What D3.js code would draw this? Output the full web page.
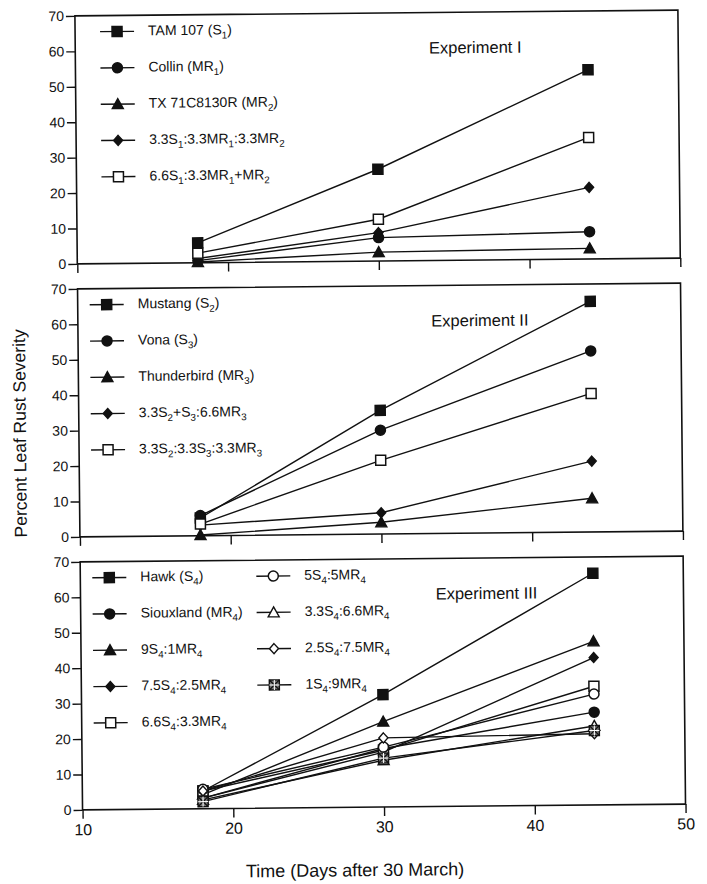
<!DOCTYPE html>
<html>
<head>
<meta charset="utf-8">
<script src="https://cdn.jsdelivr.net/npm/d3@7"></script>
<style>
  body { margin: 0; background: #fff; }
  svg { display: block; font-family: "Liberation Sans", Arial, sans-serif; }
</style>
</head>
<body>
<svg id="chart" width="707" height="884"></svg>
<script>
// sampling days (days after 30 March)
const days = [18, 30, 44];
const xTicks = [10, 20, 30, 40, 50];
const yTicks = [0, 10, 20, 30, 40, 50, 60, 70];

// Experiment I
const exp1Labels = ["TAM 107 (S_1)", "Collin (MR_1)", "TX 71C8130R (MR_2)", "3.3S_1:3.3MR_1:3.3MR_2", "6.6S_1:3.3MR_1+MR_2"];
const exp1Symbols = ["square", "circle", "triangle", "diamond", "openSquare"];
const exp1Values = [
  [5.6, 25.9, 53.4],
  [0.6, 6.6, 7.7],
  [0.2, 2.5, 3.0],
  [1.2, 8.0, 20.2],
  [2.7, 11.8, 34.3]
];

// Experiment II
const exp2Labels = ["Mustang (S_2)", "Vona (S_3)", "Thunderbird (MR_3)", "3.3S_2+S_3:6.6MR_3", "3.3S_2:3.3S_3:3.3MR_3"];
const exp2Symbols = ["square", "circle", "triangle", "diamond", "openSquare"];
const exp2Values = [
  [5.0, 34.9, 65.1],
  [5.7, 29.3, 51.1],
  [0.2, 3.3, 9.5],
  [3.0, 6.0, 20.0],
  [3.3, 20.8, 39.1]
];

// Experiment III
const exp3Labels = ["Hawk (S_4)", "Siouxland (MR_4)", "9S_4:1MR_4", "7.5S_4:2.5MR_4", "6.6S_4:3.3MR_4",
                    "5S_4:5MR_4", "3.3S_4:6.6MR_4", "2.5S_4:7.5MR_4", "1S_4:9MR_4"];
const exp3Symbols = ["square", "circle", "triangle", "diamond", "openSquare",
                     "openCircle", "openTriangle", "openDiamond", "boxStar"];
const exp3Values = [
  [5.0, 31.7, 65.4],
  [3.0, 16.5, 26.2],
  [4.0, 24.1, 46.2],
  [3.0, 15.5, 41.6],
  [5.0, 16.0, 33.5],
  [5.5, 16.9, 31.3],
  [2.5, 13.2, 22.3],
  [5.0, 19.5, 20.1],
  [2.0, 13.8, 21.0]
];

const panels = [
  { title: "Experiment I", labels: exp1Labels, symbols: exp1Symbols, values: exp1Values, legendX: [121], perCol: 5, titleX: 479 },
  { title: "Experiment II", labels: exp2Labels, symbols: exp2Symbols, values: exp2Values, legendX: [108], perCol: 5, titleX: 481 },
  { title: "Experiment III", labels: exp3Labels, symbols: exp3Symbols, values: exp3Values, legendX: [108, 272], perCol: 5, titleX: 485 }
];

const left = 79, right = 682;
const panelH = 248, panelGap = 273, firstTop = 13;

const svg = d3.select("#chart");
// the scanned figure is tilted a little, so rotate everything the same way
const root = svg.append("g").attr("transform", "rotate(-0.55, 380, 440)");

const x = d3.scaleLinear().domain([10, 50]).range([left, right]);

// draws one marker shape at 0,0
function drawMarker(g, type) {
  const s = 5;
  const black = "#111";
  if (type === "square" || type === "openSquare") {
    g.append("rect").attr("x", -s).attr("y", -s).attr("width", 2 * s).attr("height", 2 * s)
      .attr("fill", type === "square" ? black : "#fff").attr("stroke", black).attr("stroke-width", 1.5);
  } else if (type === "circle" || type === "openCircle") {
    g.append("circle").attr("r", s)
      .attr("fill", type === "circle" ? black : "#fff").attr("stroke", black).attr("stroke-width", 1.5);
  } else if (type === "triangle" || type === "openTriangle") {
    g.append("path").attr("d", `M0,${-s - 0.5}L${s + 0.5},${s - 0.5}L${-s - 0.5},${s - 0.5}Z`)
      .attr("fill", type === "triangle" ? black : "#fff").attr("stroke", black).attr("stroke-width", 1.4);
  } else if (type === "diamond" || type === "openDiamond") {
    g.append("path").attr("d", `M0,${-s}L${s - 0.5},0L0,${s}L${-s + 0.5},0Z`)
      .attr("fill", type === "diamond" ? black : "#fff").attr("stroke", black).attr("stroke-width", 1.4);
  } else if (type === "boxStar") {
    g.append("rect").attr("x", -s).attr("y", -s).attr("width", 2 * s).attr("height", 2 * s)
      .attr("fill", "#777").attr("stroke", black).attr("stroke-width", 1.4);
    g.append("path").attr("d", `M${-s},${-s}L${s},${s}M${s},${-s}L${-s},${s}`)
      .attr("stroke", black).attr("stroke-width", 1.3);
    g.append("path").attr("d", `M0,${-s}L0,${s}M${-s},0L${s},0`)
      .attr("stroke", "#fff").attr("stroke-width", 1);
  }
}

// label text, "_x" means subscript x
function richText(textSel, str) {
  const parts = str.split(/_(\w)/);
  let lowered = false;
  parts.forEach((p, i) => {
    if (p === "") return;
    if (i % 2 === 1) {
      textSel.append("tspan").attr("font-size", "70%").attr("dy", 4).text(p);
      lowered = true;
    } else {
      textSel.append("tspan").attr("dy", lowered ? -4 : 0).text(p);
      lowered = false;
    }
  });
}

panels.forEach((panel, pi) => {
  const top = firstTop + pi * panelGap;
  const y = d3.scaleLinear().domain([0, 70]).range([top + panelH, top]);
  const g = root.append("g");
  const isLast = pi === panels.length - 1;

  // y axis
  g.append("g")
    .attr("transform", `translate(${left},0)`)
    .call(d3.axisLeft(y).tickValues(yTicks).tickSize(9).tickPadding(2))
    .call(a => a.select(".domain").remove())
    .call(a => a.selectAll("line").attr("stroke", "#111").attr("stroke-width", 1.4))
    .call(a => a.selectAll("text").attr("font-size", 14).attr("fill", "#111")
      .attr("font-family", "Liberation Sans, Arial, sans-serif"));

  // x axis, labels only under the bottom panel
  const xAxis = g.append("g")
    .attr("transform", `translate(0,${top + panelH})`)
    .call(d3.axisBottom(x).tickValues(xTicks).tickSize(9).tickPadding(5).tickFormat(d3.format("d")))
    .call(a => a.select(".domain").remove())
    .call(a => a.selectAll("line").attr("stroke", "#111").attr("stroke-width", 1.4))
    .call(a => a.selectAll("text").attr("font-size", 16).attr("fill", "#111")
      .attr("font-family", "Liberation Sans, Arial, sans-serif"));
  if (!isLast) xAxis.selectAll("text").remove();

  // frame
  g.append("rect")
    .attr("x", left).attr("y", top)
    .attr("width", right - left).attr("height", panelH)
    .attr("fill", "none").attr("stroke", "#111").attr("stroke-width", 1.6);

  const line = d3.line().x((d, i) => x(days[i])).y(d => y(d));

  g.selectAll(".series")
    .data(panel.values)
    .enter()
    .append("path")
    .attr("class", "series")
    .attr("d", d => line(d))
    .attr("fill", "none")
    .attr("stroke", "#111")
    .attr("stroke-width", 1.4);

  panel.values.forEach((vals, si) => {
    vals.forEach((v, di) => {
      const m = g.append("g").attr("transform", `translate(${x(days[di])},${y(v)})`);
      drawMarker(m, panel.symbols[si]);
    });
  });

  // legend
  panel.labels.forEach((lab, li) => {
    const col = Math.floor(li / panel.perCol);
    const row = li % panel.perCol;
    const lx = panel.legendX[col];
    const ly = top + 16 + row * 36.3;
    const lg = g.append("g").attr("transform", `translate(${lx},${ly})`);
    lg.append("line").attr("x1", -17).attr("x2", 17).attr("stroke", "#111").attr("stroke-width", 1.4);
    drawMarker(lg, panel.symbols[li]);
    const t = lg.append("text").attr("x", 31).attr("y", 4).attr("font-size", 14).attr("fill", "#111");
    richText(t, lab);
  });

  // experiment title
  g.append("text")
    .attr("x", panel.titleX)
    .attr("y", top + 41)
    .attr("text-anchor", "middle")
    .attr("font-size", 16.5)
    .attr("fill", "#111")
    .text(panel.title);
});

// axis titles
root.append("text")
  .attr("transform", "translate(26,430) rotate(-90)")
  .attr("text-anchor", "middle")
  .attr("font-size", 17.5)
  .attr("fill", "#111")
  .text("Percent Leaf Rust Severity");

root.append("text")
  .attr("x", 351)
  .attr("y", 876)
  .attr("text-anchor", "middle")
  .attr("font-size", 18)
  .attr("fill", "#111")
  .text("Time (Days after 30 March)");
</script>
</body>
</html>
